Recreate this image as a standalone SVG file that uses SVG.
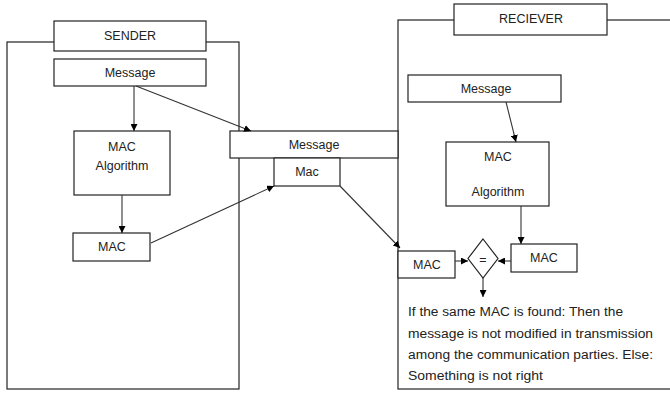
<svg xmlns="http://www.w3.org/2000/svg" width="670" height="394" viewBox="0 0 670 394">
<defs>
<marker id="ah" viewBox="0 0 10 10" refX="10" refY="5" markerWidth="7" markerHeight="7" markerUnits="userSpaceOnUse" orient="auto">
<path d="M0,0 L10,5 L0,10 z" fill="#000"/>
</marker>
<style>
.frame{fill:none;stroke:#222;stroke-width:1.2}
.box{fill:#fff;stroke:#222;stroke-width:1.2}
.t{font-family:"Liberation Sans",Arial,sans-serif;font-size:12.5px;fill:#222;text-anchor:middle;dominant-baseline:central}
.p{font-family:"Liberation Sans",Arial,sans-serif;font-size:12.5px;fill:#222}
.c{fill:none;stroke:#333;stroke-width:1.1;marker-end:url(#ah)}
</style>
</defs>
<rect width="670" height="394" fill="#fff"/>
<g id="sender-frame"><rect class="frame" x="7" y="42" width="232" height="347"/></g>
<g id="receiver-frame"><rect class="frame" x="398" y="20" width="300" height="369"/></g>
<g id="sender-label"><rect class="box" x="54" y="21" width="152" height="30"/><text class="t" x="130" y="36">SENDER</text></g>
<g id="receiver-label"><rect class="box" x="454" y="4" width="153" height="31"/><text class="t" x="531" y="19">RECIEVER</text></g>
<g id="s-message"><rect class="box" x="54" y="59" width="152" height="27"/><text class="t" x="130" y="72.5">Message</text></g>
<g id="s-algorithm"><rect class="box" x="74" y="131" width="96" height="64"/><text class="t" x="122" y="147">MAC</text><text class="t" x="122" y="166">Algorithm</text></g>
<g id="s-mac"><rect class="box" x="73" y="233" width="77" height="28"/><text class="t" x="112" y="247">MAC</text></g>
<g id="t-message"><rect class="box" x="230" y="131" width="168" height="27"/><text class="t" x="314" y="145">Message</text></g>
<g id="t-mac"><rect class="box" x="274" y="158" width="66" height="28"/><text class="t" x="307" y="172">Mac</text></g>
<g id="r-message"><rect class="box" x="408" y="75" width="153" height="27"/><text class="t" x="486" y="89">Message</text></g>
<g id="r-algorithm"><rect class="box" x="446" y="142" width="103" height="64"/><text class="t" x="498" y="157">MAC</text><text class="t" x="498" y="192">Algorithm</text></g>
<g id="r-mac-right"><rect class="box" x="511" y="244" width="66" height="28"/><text class="t" x="544" y="258">MAC</text></g>
<g id="r-mac-left"><rect class="box" x="398" y="251" width="57" height="27"/><text class="t" x="427" y="265">MAC</text></g>
<g id="compare"><path class="box" d="M483,239 L498,258.5 L483,278 L468,258.5 Z"/><text class="t" x="483" y="260">=</text></g>
<g id="connectors">
<line class="c" x1="134" y1="86" x2="134" y2="131"/>
<line class="c" x1="136" y1="86" x2="251" y2="131"/>
<line class="c" x1="122" y1="195" x2="122" y2="233"/>
<line class="c" x1="151" y1="243" x2="274" y2="186"/>
<line class="c" x1="340" y1="186" x2="400" y2="248"/>
<line class="c" x1="506" y1="102" x2="516" y2="142"/>
<line class="c" x1="521" y1="206" x2="521" y2="244"/>
<line class="c" x1="455" y1="261" x2="468" y2="261"/>
<line class="c" x1="511" y1="261" x2="498" y2="261"/>
<line class="c" x1="483" y1="278" x2="483" y2="297"/>
</g>
<g id="result-text">
<text class="p" x="408" y="316" textLength="215" lengthAdjust="spacingAndGlyphs">If the same MAC is found: Then the</text>
<text class="p" x="408" y="338" textLength="245" lengthAdjust="spacingAndGlyphs">message is not modified in transmission</text>
<text class="p" x="408" y="359" textLength="245" lengthAdjust="spacingAndGlyphs">among the communication parties. Else:</text>
<text class="p" x="408" y="380" textLength="135" lengthAdjust="spacingAndGlyphs">Something is not right</text>
</g>
</svg>
